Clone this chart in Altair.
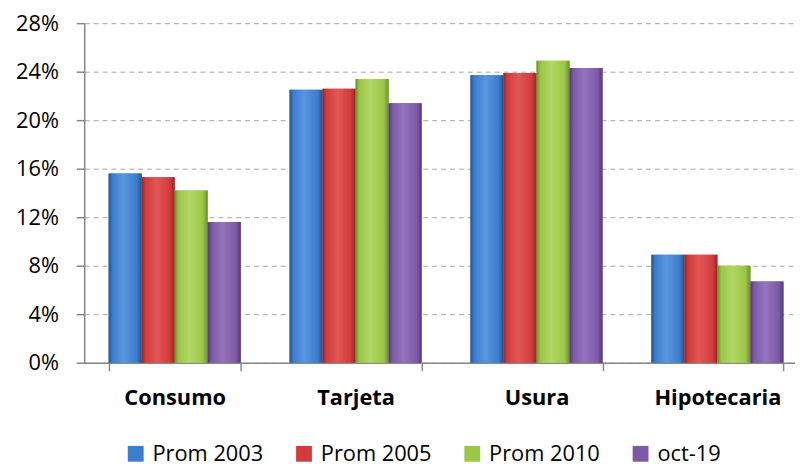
import altair as alt
import pandas as pd

categories = ["Consumo", "Tarjeta", "Usura", "Hipotecaria"]
series = ["Prom 2003", "Prom 2005", "Prom 2010", "oct-19"]
prom_2003 = [15.6, 22.5, 23.7, 8.9]
prom_2005 = [15.3, 22.6, 23.9, 8.9]
prom_2010 = [14.2, 23.4, 24.9, 8.0]
oct_19 = [11.6, 21.4, 24.3, 6.7]
y_ticks = [0, 4, 8, 12, 16, 20, 24, 28]

colors = ["#3C7DCE", "#D23C3C", "#9BC646", "#7D5AA6"]
darks = ["#245292", "#952626", "#6A902C", "#543A78"]
lights = ["#5A96E0", "#E25656", "#B0D864", "#9474BC"]

values = [prom_2003, prom_2005, prom_2010, oct_19]
rows = []
for s, vals in zip(series, values):
    for c, v in zip(categories, vals):
        rows.append({"category": c, "series": s, "value": v / 100})
df = pd.DataFrame(rows)

FONT = "Open Sans"

x_enc = alt.X(
    "category:N",
    sort=categories,
    scale=alt.Scale(range=[0, 731], paddingInner=0.27, paddingOuter=0.135),
    axis=alt.Axis(
        title=None, labelAngle=0, tickBand="extent", tickSize=8,
        tickColor="#868686", tickWidth=1.5, domainColor="#868686", domainWidth=1.5,
        labelFont=FONT, labelFontSize=22, labelFontWeight="bold", labelColor="#000000",
        labelPadding=17, grid=False,
    ),
)
y_enc = alt.Y(
    "value:Q",
    scale=alt.Scale(domain=[0, 0.28], nice=False),
    axis=alt.Axis(
        title=None, values=[t / 100 for t in y_ticks], format=".0%",
        tickSize=8, tickColor="#868686", tickWidth=1.5,
        domainColor="#868686", domainWidth=1.5,
        labelFont=FONT, labelFontSize=22, labelColor="#000000", labelPadding=18,
        grid=True, gridColor="#A6A6A6", gridDash=[5, 4], gridWidth=1,
    ),
)
xo_enc = alt.XOffset("series:N", sort=series, scale=alt.Scale(paddingInner=0, paddingOuter=0))

base = alt.Chart(df).mark_bar().encode(
    x=x_enc,
    y=y_enc,
    xOffset=xo_enc,
    color=alt.Color(
        "series:N",
        sort=series,
        scale=alt.Scale(domain=series, range=colors),
        legend=alt.Legend(
            title=None, orient="none", direction="horizontal",
            legendX=41, legendY=424,
            symbolType="square", symbolSize=256, symbolStrokeWidth=0,
            labelFont=FONT, labelFontSize=22, labelColor="#000000",
            labelOffset=6, columnPadding=30,
        ),
    ),
)

layers = [base]
for s, c, d, l in zip(series, colors, darks, lights):
    grad = alt.Gradient(
        gradient="linear", x1=0, x2=1, y1=0, y2=0,
        stops=[
            alt.GradientStop(color=d, offset=0),
            alt.GradientStop(color=c, offset=0.12),
            alt.GradientStop(color=l, offset=0.45),
            alt.GradientStop(color=c, offset=0.85),
            alt.GradientStop(color=d, offset=1),
        ],
    )
    layers.append(
        alt.Chart(df)
        .transform_filter(alt.datum.series == s)
        .mark_bar(fill=grad)
        .encode(x=x_enc, y=y_enc, xOffset=xo_enc)
    )

chart = (
    alt.layer(*layers)
    .properties(
        width=718,
        height=343,
        autosize=alt.AutoSizeParams(type="none"),
        padding={"left": 77, "top": 13, "right": 0, "bottom": 102},
    )
    .configure_view(stroke=None)
)

chart.save("out.html", embed_options={"renderer": "svg", "actions": False})
